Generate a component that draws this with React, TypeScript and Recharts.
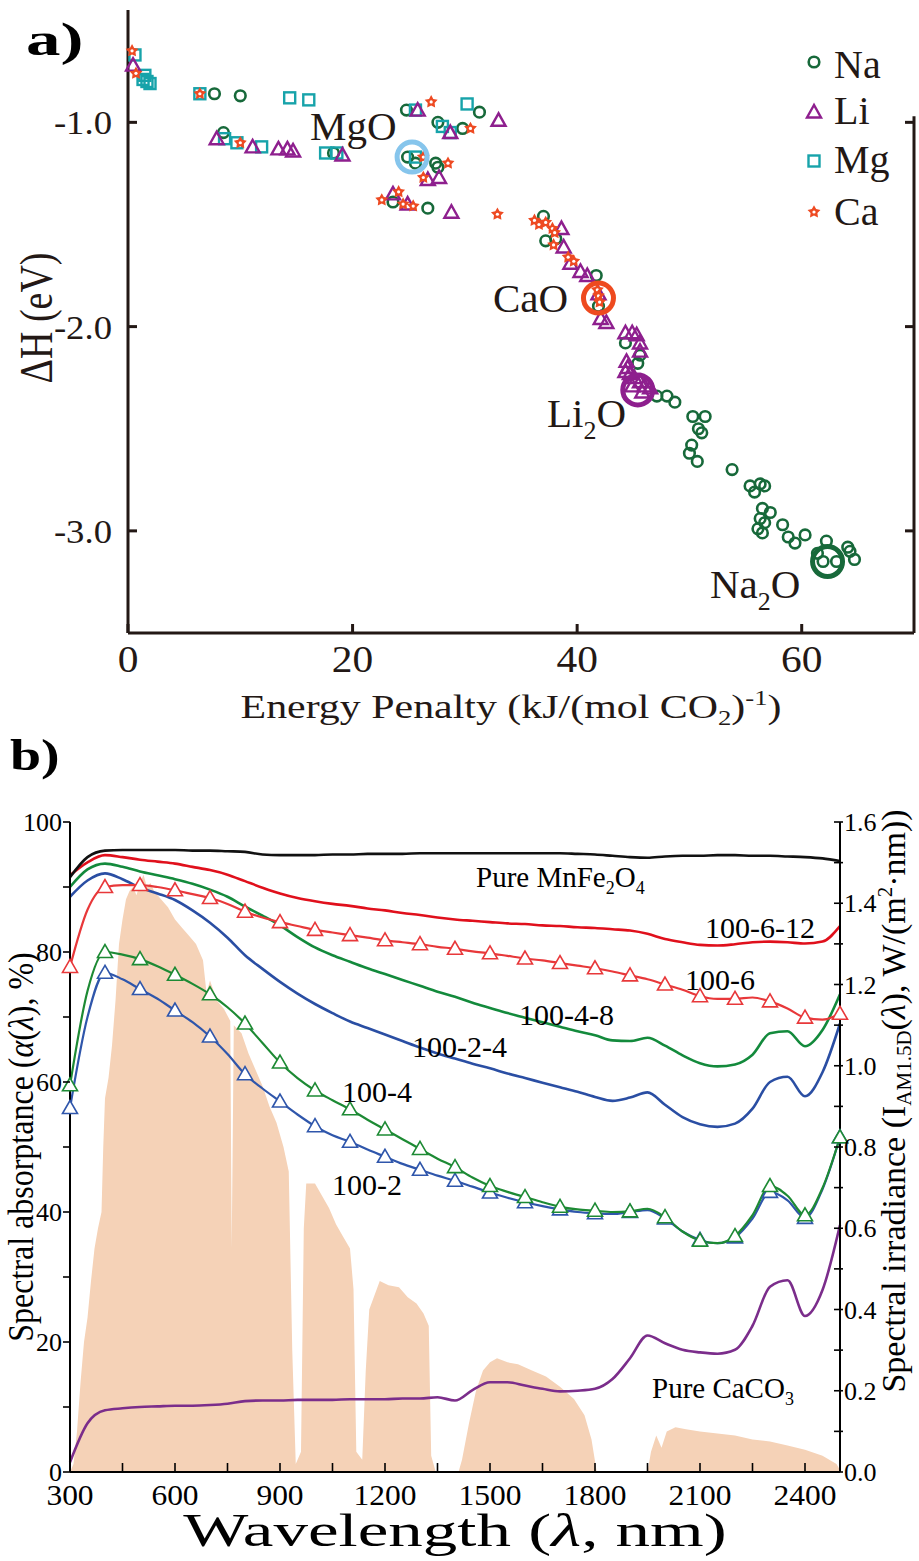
import React from 'react';
import {
  ScatterChart, Scatter, XAxis, YAxis, ReferenceDot, ReferenceLine,
  ComposedChart, Line, Area,
} from 'recharts';

const FONT = '"Liberation Serif", "Times New Roman", Times, serif';
const INK = '#231815';

// ---------------- Panel a data (Energy penalty, ΔH) ----------------
const naPoints: [number, number][] = [
  [7.7, -0.86], [10.0, -0.87], [24.8, -0.94], [31.3, -0.95], [27.6, -1.0], [29.8, -1.03],
  [8.5, -1.05], [18.3, -1.15], [24.9, -1.17], [25.6, -1.2], [27.4, -1.2], [27.6, -1.22],
  [23.6, -1.39], [26.7, -1.42], [37.0, -1.46], [37.2, -1.58], [38.1, -1.57], [41.7, -1.75],
  [41.9, -1.9], [44.3, -2.08], [45.6, -2.14], [45.4, -2.18], [47.1, -2.34], [48.0, -2.34],
  [48.7, -2.37], [50.3, -2.44], [51.4, -2.44], [50.8, -2.5], [51.1, -2.52], [50.2, -2.58],
  [50.0, -2.62], [50.7, -2.66], [53.8, -2.7], [55.4, -2.78], [56.3, -2.77], [56.7, -2.78],
  [55.8, -2.81], [56.5, -2.89], [57.2, -2.91], [56.3, -2.94], [56.7, -2.96], [56.1, -2.99],
  [56.5, -3.01], [58.3, -2.97], [58.8, -3.03], [59.4, -3.06], [60.3, -3.02], [62.2, -3.05],
  [61.4, -3.11], [61.9, -3.15], [63.1, -3.15], [64.1, -3.08], [64.3, -3.1], [64.7, -3.14],
];
const liPoints: [number, number][] = [
  [0.45, -0.72], [25.8, -0.94], [33.0, -0.99], [28.7, -1.05], [7.9, -1.08], [11.1, -1.12],
  [13.4, -1.13], [14.2, -1.13], [14.7, -1.14], [19.1, -1.16], [26.7, -1.28], [27.7, -1.27],
  [23.6, -1.35], [24.9, -1.4], [28.8, -1.44], [38.6, -1.52], [38.8, -1.61], [39.4, -1.69],
  [40.3, -1.73], [40.9, -1.75], [41.9, -1.84], [42.1, -1.96], [42.6, -1.98], [44.3, -2.03],
  [44.9, -2.03], [45.3, -2.04], [45.6, -2.08], [45.6, -2.12], [44.4, -2.17], [44.5, -2.2],
  [44.3, -2.22], [44.7, -2.23], [45.1, -2.25], [45.6, -2.27], [46.0, -2.29], [44.9, -2.29],
  [46.5, -2.3], [45.8, -2.32],
];
const mgPoints: [number, number][] = [
  [0.62, -0.67], [1.34, -0.79], [1.5, -0.77], [1.69, -0.8], [1.96, -0.81], [6.4, -0.86],
  [14.4, -0.88], [16.1, -0.89], [25.6, -0.94], [30.2, -0.91], [28.0, -1.02], [28.7, -1.05],
  [8.6, -1.08], [9.7, -1.1], [11.9, -1.12], [17.6, -1.15], [18.6, -1.15], [25.6, -1.17],
];
const caPoints: [number, number][] = [
  [0.36, -0.65], [0.71, -0.76], [6.4, -0.86], [27.0, -0.9], [30.5, -1.03], [10.0, -1.1],
  [26.3, -1.17], [28.5, -1.2], [26.3, -1.27], [24.1, -1.34], [22.6, -1.38], [24.5, -1.4],
  [25.4, -1.41], [32.9, -1.45], [36.2, -1.48], [36.6, -1.5], [37.2, -1.49], [37.8, -1.52],
  [38.0, -1.54], [37.9, -1.6], [39.2, -1.66], [39.7, -1.68], [41.8, -1.82], [41.9, -1.85],
  [42.0, -1.88],
];
const highlightX = [25.3, 41.9, 45.4, 62.3];
const highlightY = [-1.17, -1.86, -2.31, -3.15];
const xTicksA = [0, 20, 40, 60];
const yTicksA = [-1, -2, -3];
const legendNames = ['Na', 'Li', 'Mg', 'Ca'];

// ---------------- Panel b data (spectral absorptance) ----------------
const wavelengths = [
  300, 350, 400, 450, 500, 550, 600, 650, 700, 750, 800,
  850, 900, 950, 1000, 1050, 1100, 1150, 1200, 1250, 1300,
  1350, 1400, 1450, 1500, 1550, 1600, 1650, 1700, 1750, 1800,
  1850, 1900, 1950, 2000, 2050, 2100, 2150, 2200, 2250, 2300,
  2350, 2400, 2450, 2500,
];
const pureMnFe2O4 = [
  91.5, 94.6, 95.6, 95.7, 95.7, 95.7, 95.7, 95.6, 95.6, 95.5, 95.4,
  95.0, 94.9, 94.9, 94.9, 95.0, 95.0, 95.1, 95.1, 95.1, 95.2,
  95.2, 95.2, 95.2, 95.2, 95.2, 95.2, 95.2, 95.2, 95.1, 95.0,
  94.8, 94.6, 94.5, 94.7, 94.8, 94.8, 94.9, 94.9, 94.8, 94.8,
  94.7, 94.6, 94.4, 94.0,
];
const s100_6_12 = [
  91.8, 93.8, 94.9, 94.6, 94.2, 93.9, 93.6, 93.1, 92.6, 91.9, 90.9,
  89.9, 89.0, 88.3, 87.8, 87.4, 87.1, 86.7, 86.4, 86.0, 85.7,
  85.3, 85.0, 84.8, 84.6, 84.4, 84.3, 84.1, 84.0, 83.8, 83.7,
  83.5, 83.3, 82.8, 82.0, 81.5, 81.1, 81.0, 81.2, 81.5, 81.6,
  81.5, 81.3, 81.6, 84.0,
];
const s100_4_8 = [
  90.0, 92.7, 93.6, 93.1, 92.4, 91.8, 91.2, 90.5, 89.6, 88.5, 87.0,
  85.6, 84.1, 82.3, 80.7, 79.5, 78.5, 77.5, 76.6, 75.7, 74.8,
  73.9, 73.1, 72.2, 71.4, 70.6, 69.9, 69.2, 68.5, 67.8, 67.2,
  66.4, 66.3, 66.8, 65.6, 64.1, 62.9, 62.4, 62.7, 64.2, 67.5,
  67.8, 65.5, 68.0, 73.5,
];
const s100_2_4 = [
  88.5, 91.0, 92.1, 91.2, 89.9, 89.0, 88.0, 86.4, 84.5, 82.2, 79.5,
  77.4, 75.4, 73.6, 72.0, 70.6, 69.3, 68.3, 67.3, 66.3, 65.3,
  64.4, 63.6, 62.8, 62.1, 61.3, 60.6, 59.9, 59.2, 58.5, 57.7,
  57.1, 57.6, 58.4, 56.5, 54.6, 53.5, 53.1, 53.6, 55.9, 60.0,
  60.8, 57.8, 61.5, 69.0,
];
const s100_6 = [
  77.7, 86.5, 90.0, 90.3, 90.3, 90.0, 89.5, 88.9, 88.3, 87.4, 86.2,
  85.3, 84.6, 84.0, 83.4, 83.0, 82.6, 82.2, 81.8, 81.5, 81.2,
  80.8, 80.5, 80.1, 79.8, 79.4, 79.0, 78.7, 78.3, 77.9, 77.5,
  77.0, 76.4, 75.8, 75.0, 74.2, 73.2, 72.8, 72.8, 73.0, 72.4,
  71.3, 69.9, 69.6, 70.5,
];
const s100_4 = [
  59.5, 74.0, 80.0, 79.6, 78.9, 77.8, 76.5, 75.1, 73.5, 71.5, 69.0,
  66.0, 63.0, 60.6, 58.7, 57.2, 55.8, 54.2, 52.7, 51.2, 49.7,
  48.2, 46.9, 45.3, 44.0, 43.1, 42.3, 41.5, 40.8, 40.4, 40.2,
  40.0, 40.1, 40.5, 39.2, 37.0, 35.6, 35.2, 36.3, 39.5, 44.0,
  42.5, 39.5, 43.7, 51.5,
];
const s100_2 = [
  56.0, 70.0, 76.8, 75.8, 74.3, 72.8, 71.0, 69.2, 67.0, 64.3, 61.2,
  59.0, 57.0, 55.0, 53.2, 51.8, 50.8, 49.6, 48.5, 47.4, 46.5,
  45.6, 44.8, 43.9, 43.0, 42.2, 41.5, 40.9, 40.4, 40.0, 39.8,
  39.7, 40.0, 40.3, 39.0, 37.0, 35.7, 35.2, 36.1, 39.0, 43.1,
  41.8, 39.1, 43.5, 51.5,
];
const pureCaCO3 = [
  1.5, 7.5, 9.5, 9.8, 10.0, 10.1, 10.2, 10.2, 10.3, 10.5, 10.9,
  11.0, 11.0, 11.1, 11.1, 11.1, 11.2, 11.2, 11.2, 11.3, 11.3,
  11.5, 11.0, 12.6, 13.8, 13.8, 13.3, 12.8, 12.4, 12.5, 12.8,
  14.3, 17.5, 21.0, 19.8, 18.8, 18.4, 18.2, 18.8, 22.5, 28.5,
  29.5, 24.0, 28.0, 38.0,
];
// AM1.5D spectral irradiance (right axis)
const irrWl = [
  300, 310, 320, 330, 340, 350, 360, 370, 380, 390, 395, 400, 410, 420, 430, 440, 450, 460,
  470, 480, 490, 500, 510, 520, 530, 540, 560, 580, 600, 620, 640, 660, 680, 690, 700, 720,
  740, 758, 762, 768, 790, 810, 830, 850, 870, 890, 910, 925, 935, 945, 960, 968, 975, 1000,
  1020, 1040, 1060, 1080, 1100, 1110, 1118, 1135, 1145, 1155, 1185, 1210, 1240, 1265, 1290,
  1310, 1325, 1332, 1345, 1410, 1420, 1440, 1460, 1480, 1500, 1520, 1550, 1580, 1620, 1660,
  1700, 1740, 1770, 1790, 1805, 1950, 1960, 1975, 1990, 2005, 2030, 2060, 2100, 2150, 2200,
  2250, 2300, 2350, 2400, 2450, 2490, 2500,
];
const irrVal = [
  0, 0.02, 0.1, 0.22, 0.32, 0.38, 0.47, 0.55, 0.6, 0.64, 0.8, 0.92, 0.97, 1.05, 1.16, 1.3, 1.36, 1.41,
  1.43, 1.44, 1.42, 1.45, 1.47, 1.44, 1.45, 1.43, 1.41, 1.39, 1.36, 1.34, 1.32, 1.3, 1.26, 1.18, 1.21, 1.16,
  1.14, 1.11, 0.55, 1.1, 1.08, 1.03, 0.99, 0.95, 0.9, 0.86, 0.8, 0.74, 0.3, 0.02, 0.05, 0.6, 0.71, 0.71,
  0.68, 0.65, 0.61, 0.58, 0.55, 0.45, 0.05, 0.03, 0.25, 0.4, 0.47, 0.46, 0.455, 0.43, 0.415,
  0.39, 0.36, 0.04, 0, 0, 0.03, 0.12, 0.2, 0.25, 0.27, 0.28, 0.27, 0.265, 0.25, 0.235,
  0.21, 0.18, 0.14, 0.08, 0, 0, 0.05, 0.09, 0.06, 0.1, 0.11, 0.105, 0.1, 0.095, 0.09,
  0.08, 0.075, 0.065, 0.055, 0.04, 0.02, 0.005,
];
const xTicksB = [300, 450, 600, 750, 900, 1050, 1200, 1350, 1500, 1650, 1800, 1950, 2100, 2250, 2400];
const yTicksBL = [0, 10, 20, 30, 40, 50, 60, 70, 80, 90, 100];
const yTicksBR = [0, 0.1, 0.2, 0.3, 0.4, 0.5, 0.6, 0.7, 0.8, 0.9, 1.0, 1.1, 1.2, 1.3, 1.4, 1.5, 1.6];

// ---------------- build tables ----------------
const toXY = (arr: [number, number][]) => arr.map(([x, y]) => ({ x, y }));
const allWl = Array.from(new Set([...wavelengths, ...irrWl])).sort((a, b) => a - b);
const rowsB = allWl.map((wl) => {
  const i = wavelengths.indexOf(wl);
  const j = irrWl.indexOf(wl);
  const g = (arr: number[]) => (i >= 0 ? arr[i] : null);
  return {
    wl,
    black: g(pureMnFe2O4), r12: g(s100_6_12), g8: g(s100_4_8), b4: g(s100_2_4),
    r6: g(s100_6), g4: g(s100_4), b2: g(s100_2), caco3: g(pureCaCO3),
    irr: j >= 0 ? irrVal[j] : null,
  };
});

// ---------------- styling ----------------
const C_NA = '#17693a';
const C_LI = '#8e1f8e';
const C_MG = '#17a3aa';
const C_CA = '#ee4a22';
const HL_COLORS = ['#86c5ec', '#ee4a1f', '#8e1f8e', '#17693a'];

function ST(p: any) {
  const { x, y, size, sx = 1, sy = 1, anchor = 'start', weight = 'normal', rotate = 0, children, fill = INK } = p;
  return (
    <text
      transform={`translate(${x},${y}) rotate(${rotate}) scale(${sx},${sy})`}
      fontFamily={FONT} fontSize={size} textAnchor={anchor} fontWeight={weight} fill={fill}
    >
      {children}
    </text>
  );
}

const Circ = (p: any) => <circle cx={p.cx} cy={p.cy} r={5.3} fill="none" stroke={C_NA} strokeWidth={2.6} />;
const Tri = (p: any) => (
  <polygon points={`${p.cx},${p.cy - 7} ${p.cx - 7},${p.cy + 5.5} ${p.cx + 7},${p.cy + 5.5}`}
    fill="none" stroke={C_LI} strokeWidth={2.4} />
);
const Sq = (p: any) => (
  <rect x={p.cx - 5.5} y={p.cy - 5.5} width={11} height={11} fill="none" stroke={C_MG} strokeWidth={2.4} />
);
function starPts(cx: number, cy: number, R: number, r: number) {
  const pts: string[] = [];
  for (let k = 0; k < 10; k++) {
    const a = -Math.PI / 2 + (k * Math.PI) / 5;
    const rad = k % 2 === 0 ? R : r;
    pts.push(`${cx + rad * Math.cos(a)},${cy + rad * Math.sin(a)}`);
  }
  return pts.join(' ');
}
const Star = (p: any) => (
  <g>
    <polygon points={starPts(p.cx, p.cy, 6.8, 3.6)} fill={C_CA} />
    <circle cx={p.cx} cy={p.cy} r={1.6} fill="#fff" />
  </g>
);

// ticks panel a
const ATickX = (p: any) => {
  const { x, y, payload } = p;
  return (
    <g>
      <line x1={x} y1={y} x2={x} y2={y - 9} stroke={INK} strokeWidth={3} />
      <ST x={x} y={y + 39} size={37} sx={1.12} anchor="middle">{String(payload.value)}</ST>
    </g>
  );
};
const ATickY = (p: any) => {
  const { x, y, payload } = p;
  return (
    <g>
      <line x1={x} y1={y} x2={x + 9} y2={y} stroke={INK} strokeWidth={3} />
      <ST x={x - 16} y={y + 12} size={34} sx={1.08} anchor="end">{Number(payload.value).toFixed(1)}</ST>
    </g>
  );
};
// ticks panel b
const BTickX = (p: any) => {
  const { x, y, payload } = p;
  const v = payload.value;
  return (
    <g>
      <line x1={x} y1={y} x2={x} y2={y - 9} stroke="#000" strokeWidth={1.6} />
      {v % 300 === 0 ? <ST x={x} y={y + 33} size={30} sx={1.05} anchor="middle" fill="#000">{String(v)}</ST> : null}
    </g>
  );
};
const BTickTop = (p: any) => {
  const { x, y } = p;
  return <line x1={x} y1={y} x2={x} y2={y + 10} stroke="#000" strokeWidth={1.6} />;
};
const BTickL = (p: any) => {
  const { x, y, payload } = p;
  const v = payload.value;
  return (
    <g>
      <line x1={x - 7} y1={y} x2={x} y2={y} stroke="#000" strokeWidth={1.6} />
      {v % 20 === 0 ? <ST x={x - 8} y={y + 9} size={26} anchor="end" fill="#000">{String(v)}</ST> : null}
    </g>
  );
};
const BTickR = (p: any) => {
  const { x, y, payload } = p;
  const v = Number(payload.value);
  const even = Math.round(v * 10) % 2 === 0;
  return (
    <g>
      <line x1={x - 6} y1={y} x2={x + 3} y2={y} stroke="#000" strokeWidth={1.6} />
      {even ? <ST x={x + 4} y={y + 9} size={26} anchor="start" fill="#000">{v.toFixed(1)}</ST> : null}
    </g>
  );
};

const triDot = (color: string, key: string) => (p: any) => {
  const { cx, cy, payload, index } = p;
  if (cx == null || cy == null || !payload || payload[key] == null || payload.wl % 100 !== 0) {
    return <g key={`${key}-${index}`} />;
  }
  return (
    <polygon key={`${key}-${index}`}
      points={`${cx},${cy - 7.5} ${cx - 7.5},${cy + 5.5} ${cx + 7.5},${cy + 5.5}`}
      fill="#fff" stroke={color} strokeWidth={1.6} />
  );
};

const LEG_SHAPES = [Circ, Tri, Sq, Star];
const legendY = [62, 112, 161, 212];
const legendBase = [78, 124, 173, 225];

export default function App() {
  return (
    <div style={{ position: 'absolute', left: 0, top: 0, width: 919, height: 1561, background: '#fff' }}>
      <div style={{ position: 'absolute', left: 0, top: 0 }}>
        <ScatterChart width={919} height={720} margin={{ top: 10, right: 5, left: 0, bottom: 0 }}>
          <XAxis type="number" dataKey="x" domain={[0, 70]} ticks={xTicksA} interval={0} height={87}
            tickSize={0} tickMargin={0} tickLine={false} tick={ATickX}
            axisLine={{ stroke: INK, strokeWidth: 3 }} />
          <YAxis type="number" dataKey="y" domain={[-3.5, -0.45]} ticks={yTicksA} interval={0} width={128}
            tickSize={0} tickMargin={0} tickLine={false} tick={ATickY}
            axisLine={{ stroke: INK, strokeWidth: 3 }} />
          <ReferenceLine segment={[{ x: 70, y: -0.97 }, { x: 70, y: -3.5 }]} stroke={INK} strokeWidth={3} ifOverflow="visible" />
          {yTicksA.map((t) => (
            <ReferenceLine key={t} segment={[{ x: 69.2, y: t }, { x: 70, y: t }]} stroke={INK} strokeWidth={3} ifOverflow="visible" />
          ))}
          <Scatter data={toXY(naPoints)} shape={(p: any) => <Circ {...p} />} isAnimationActive={false} />
          <Scatter data={toXY(mgPoints)} shape={(p: any) => <Sq {...p} />} isAnimationActive={false} />
          <Scatter data={toXY(liPoints)} shape={(p: any) => <Tri {...p} />} isAnimationActive={false} />
          <Scatter data={toXY(caPoints)} shape={(p: any) => <Star {...p} />} isAnimationActive={false} />
          {highlightX.map((hx, i) => (
            <ReferenceDot key={i} x={hx} y={highlightY[i]} r={15} fill="none"
              stroke={HL_COLORS[i]} strokeWidth={5} ifOverflow="visible" />
          ))}
        </ScatterChart>
      </div>

      <div style={{ position: 'absolute', left: 0, top: 760 }}>
        <ComposedChart width={919} height={801} data={rowsB} margin={{ top: 62, right: 0, left: 0, bottom: 0 }}>
          <XAxis dataKey="wl" type="number" domain={[300, 2500]} ticks={xTicksB} interval={0} height={89}
            tickSize={0} tickMargin={0} tickLine={false} tick={BTickX}
            axisLine={{ stroke: '#000', strokeWidth: 2 }} />
          <XAxis xAxisId="top" orientation="top" dataKey="wl" type="number" domain={[300, 2500]} ticks={xTicksB}
            interval={0} height={0} tickSize={0} tickMargin={0} tickLine={false} tick={BTickTop}
            axisLine={{ stroke: '#000', strokeWidth: 2 }} />
          <YAxis yAxisId="left" type="number" domain={[0, 100]} ticks={yTicksBL} interval={0} width={70}
            tickSize={0} tickMargin={0} tickLine={false} tick={BTickL}
            axisLine={{ stroke: '#000', strokeWidth: 2 }} />
          <YAxis yAxisId="right" orientation="right" type="number" domain={[0, 1.6]} ticks={yTicksBR} interval={0}
            width={79} tickSize={0} tickMargin={0} tickLine={false} tick={BTickR}
            axisLine={{ stroke: '#000', strokeWidth: 2 }} />
          <Area yAxisId="right" dataKey="irr" type="linear" stroke="none" fill="#f5d2b7" fillOpacity={1}
            connectNulls isAnimationActive={false} activeDot={false} />
          <Line yAxisId="left" dataKey="caco3" type="monotone" stroke="#7b2d8b" strokeWidth={2.6} dot={false}
            activeDot={false} connectNulls isAnimationActive={false} />
          <Line yAxisId="left" dataKey="b2" type="monotone" stroke="#2f56ab" strokeWidth={2.2}
            dot={triDot('#2f56ab', 'b2')} activeDot={false} connectNulls isAnimationActive={false} />
          <Line yAxisId="left" dataKey="g4" type="monotone" stroke="#1d8a34" strokeWidth={2.2}
            dot={triDot('#1d8a34', 'g4')} activeDot={false} connectNulls isAnimationActive={false} />
          <Line yAxisId="left" dataKey="b4" type="monotone" stroke="#2a4ea3" strokeWidth={2.6} dot={false}
            activeDot={false} connectNulls isAnimationActive={false} />
          <Line yAxisId="left" dataKey="g8" type="monotone" stroke="#138a3c" strokeWidth={2.6} dot={false}
            activeDot={false} connectNulls isAnimationActive={false} />
          <Line yAxisId="left" dataKey="r6" type="monotone" stroke="#e8383a" strokeWidth={2.2}
            dot={triDot('#e8383a', 'r6')} activeDot={false} connectNulls isAnimationActive={false} />
          <Line yAxisId="left" dataKey="r12" type="monotone" stroke="#e0101c" strokeWidth={2.6} dot={false}
            activeDot={false} connectNulls isAnimationActive={false} />
          <Line yAxisId="left" dataKey="black" type="monotone" stroke="#111" strokeWidth={2.6} dot={false}
            activeDot={false} connectNulls isAnimationActive={false} />
        </ComposedChart>
      </div>

      <svg width={919} height={1561} style={{ position: 'absolute', left: 0, top: 0, pointerEvents: 'none' }}>
        {/* Panel a texts */}
        <ST x={26} y={55} size={46} sx={1.5} weight="bold" fill="#000">a)</ST>
        <ST x={52} y={318} size={38} sy={1.2} rotate={-90} anchor="middle">ΔH (eV)</ST>
        <ST x={511} y={718} size={33} sx={1.27} anchor="middle">
          <tspan>Energy Penalty (kJ/(mol CO</tspan>
          <tspan fontSize={21} dy={7}>2</tspan>
          <tspan fontSize={33} dy={-7}>)</tspan>
          <tspan fontSize={21} dy={-13}>-1</tspan>
          <tspan fontSize={33} dy={13}>)</tspan>
        </ST>
        {legendNames.map((n, i) => {
          const Shape = LEG_SHAPES[i];
          return (
            <g key={n}>
              <Shape cx={814} cy={legendY[i]} />
              <ST x={834} y={legendBase[i]} size={40}>{n}</ST>
            </g>
          );
        })}
        <ST x={310} y={140} size={41}>MgO</ST>
        <ST x={493} y={312} size={41}>CaO</ST>
        <ST x={547} y={427} size={41}>
          <tspan>Li</tspan><tspan fontSize={26} dy={12}>2</tspan><tspan fontSize={41} dy={-12}>O</tspan>
        </ST>
        <ST x={710} y={598} size={41}>
          <tspan>Na</tspan><tspan fontSize={26} dy={12}>2</tspan><tspan fontSize={41} dy={-12}>O</tspan>
        </ST>

        {/* Panel b texts */}
        <ST x={10} y={770} size={44} sx={1.27} weight="bold" fill="#000">b)</ST>
        <ST x={476} y={887} size={29} fill="#000">
          <tspan>Pure MnFe</tspan><tspan fontSize={18} dy={7}>2</tspan>
          <tspan fontSize={29} dy={-7}>O</tspan><tspan fontSize={18} dy={7}>4</tspan>
        </ST>
        <ST x={705} y={938} size={30} fill="#000">100-6-12</ST>
        <ST x={685} y={990} size={30} fill="#000">100-6</ST>
        <ST x={519} y={1025} size={30} fill="#000">100-4-8</ST>
        <ST x={412} y={1057} size={30} fill="#000">100-2-4</ST>
        <ST x={342} y={1102} size={30} fill="#000">100-4</ST>
        <ST x={332} y={1195} size={30} fill="#000">100-2</ST>
        <ST x={652} y={1398} size={29} fill="#000">
          <tspan>Pure CaCO</tspan><tspan fontSize={18} dy={7}>3</tspan>
        </ST>
        <ST x={455} y={1546} size={46} sx={1.5} anchor="middle" fill="#000">
          <tspan>Wavelength (</tspan><tspan fontStyle="italic">λ</tspan><tspan>, nm)</tspan>
        </ST>
        <ST x={33} y={1147} size={32} sy={1.15} rotate={-90} anchor="middle" fill="#000">
          <tspan>Spectral absorptance (</tspan><tspan fontStyle="italic">α</tspan><tspan>(</tspan>
          <tspan fontStyle="italic">λ</tspan><tspan>), %)</tspan>
        </ST>
        <ST x={905} y={1101} size={34} rotate={-90} anchor="middle" fill="#000">
          <tspan>Spectral irradiance (I</tspan>
          <tspan fontSize={21} dy={6}>AM1.5D</tspan>
          <tspan fontSize={34} dy={-6}>(</tspan><tspan fontStyle="italic">λ</tspan>
          <tspan>), W/(m</tspan><tspan fontSize={21} dy={-13}>2</tspan>
          <tspan fontSize={34} dy={13}>·nm))</tspan>
        </ST>
      </svg>
    </div>
  );
}
